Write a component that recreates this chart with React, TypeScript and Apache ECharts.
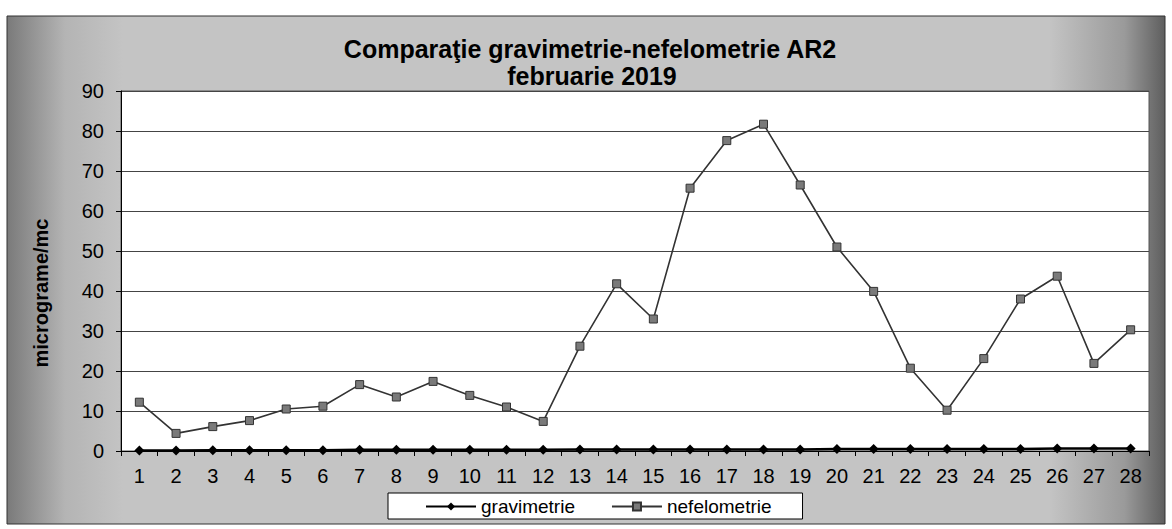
import React, { useEffect, useRef } from "react";
import * as echarts from "echarts";

const categories = [
  "1", "2", "3", "4", "5", "6", "7", "8", "9", "10", "11", "12", "13", "14",
  "15", "16", "17", "18", "19", "20", "21", "22", "23", "24", "25", "26", "27", "28",
];

const gravimetrie = [
  0.1, 0.1, 0.2, 0.2, 0.2, 0.2, 0.3, 0.3, 0.3, 0.3, 0.3, 0.3, 0.4, 0.4,
  0.4, 0.4, 0.4, 0.4, 0.4, 0.5, 0.5, 0.5, 0.5, 0.5, 0.5, 0.6, 0.6, 0.6,
];

const nefelometrie = [
  12.2, 4.4, 6.1, 7.6, 10.5, 11.2, 16.6, 13.5, 17.4, 13.9, 11.0, 7.4, 26.2, 41.8,
  33.0, 65.7, 77.6, 81.7, 66.5, 51.0, 39.9, 20.7, 10.2, 23.1, 38.0, 43.7, 21.9, 30.3,
];

const yTicks = { min: 0, max: 90, interval: 10 };

const titleLines = ["Comparaţie gravimetrie-nefelometrie AR2", "februarie 2019"];
const yAxisName = "micrograme/mc";
const seriesNames = ["gravimetrie", "nefelometrie"];

const FONT = "'Liberation Sans', Arial, sans-serif";

export default function App() {
  const ref = useRef<HTMLDivElement>(null);

  useEffect(() => {
    if (!ref.current) return;
    const chart = echarts.init(ref.current, null, { renderer: "svg" });
    chart.setOption({
      animation: false,
      backgroundColor: "#ffffff",
      textStyle: { fontFamily: FONT },
      graphic: [
        {
          type: "rect",
          z: -10,
          silent: true,
          shape: { x: 7, y: 16, width: 1158, height: 508 },
          style: {
            fill: new echarts.graphic.LinearGradient(0, 0, 1, 0, [
              { offset: 0, color: "#7a7a7a" },
              { offset: 0.05, color: "#b4b4b4" },
              { offset: 0.1, color: "#c4c4c4" },
              { offset: 0.9, color: "#c4c4c4" },
              { offset: 0.965, color: "#9a9a9a" },
              { offset: 1, color: "#5e5e5e" },
            ]),
            stroke: "#333",
            lineWidth: 1,
          },
        },
        {
          type: "text",
          z: 10,
          x: 590,
          y: 49,
          style: {
            text: titleLines[0],
            fontFamily: FONT,
            fontSize: 25,
            fontWeight: "bold",
            fill: "#000",
            textAlign: "center",
            textVerticalAlign: "middle",
          },
        },
        {
          type: "text",
          z: 10,
          x: 592,
          y: 76,
          style: {
            text: titleLines[1],
            fontFamily: FONT,
            fontSize: 25,
            fontWeight: "bold",
            fill: "#000",
            textAlign: "center",
            textVerticalAlign: "middle",
          },
        },
        {
          type: "text",
          z: 10,
          x: 41,
          y: 293,
          rotation: Math.PI / 2,
          style: {
            text: yAxisName,
            fontFamily: FONT,
            fontSize: 20,
            fontWeight: "bold",
            fill: "#000",
            textAlign: "center",
            textVerticalAlign: "middle",
          },
        },
      ],
      grid: {
        left: 121,
        right: 23,
        top: 91,
        bottom: 78,
        show: true,
        backgroundColor: "#ffffff",
        borderColor: "#555",
        borderWidth: 1,
      },
      legend: {
        left: 388,
        top: 493,
        orient: "horizontal",
        backgroundColor: "#ffffff",
        borderColor: "#000",
        borderWidth: 1,
        borderRadius: 0,
        padding: [4, 31, 3, 37],
        itemGap: 36,
        itemWidth: 50,
        itemHeight: 10,
        textStyle: { fontFamily: FONT, fontSize: 19, color: "#000" },
        data: seriesNames,
      },
      xAxis: {
        type: "category",
        data: categories,
        boundaryGap: true,
        axisLine: { show: true, lineStyle: { color: "#000", width: 1 } },
        axisTick: { show: true, inside: false, length: 5, alignWithLabel: false, lineStyle: { color: "#000" } },
        axisLabel: { fontFamily: FONT, fontSize: 20, color: "#000", margin: 15, interval: 0 },
        splitLine: { show: false },
      },
      yAxis: {
        type: "value",
        min: yTicks.min,
        max: yTicks.max,
        interval: yTicks.interval,
        axisLine: { show: true, lineStyle: { color: "#000", width: 1 } },
        axisTick: { show: true, inside: false, length: 5, lineStyle: { color: "#000" } },
        axisLabel: { fontFamily: FONT, fontSize: 20, color: "#000", margin: 17 },
        splitLine: { show: true, lineStyle: { color: "#444", width: 1 } },
      },
      series: [
        {
          name: seriesNames[0],
          type: "line",
          data: gravimetrie,
          symbol: "diamond",
          symbolSize: 10,
          showAllSymbol: true,
          lineStyle: { color: "#000", width: 2.5 },
          itemStyle: { color: "#000" },
          z: 3,
        },
        {
          name: seriesNames[1],
          type: "line",
          data: nefelometrie,
          symbol: "rect",
          symbolSize: 8,
          showAllSymbol: true,
          lineStyle: { color: "#333", width: 1.6 },
          itemStyle: { color: "#7a7a7a", borderColor: "#333", borderWidth: 1 },
          z: 4,
        },
      ],
    });
    return () => chart.dispose();
  }, []);

  return (
    <div
      ref={ref}
      style={{ position: "fixed", left: 0, top: 0, width: 1172, height: 529 }}
    />
  );
}
